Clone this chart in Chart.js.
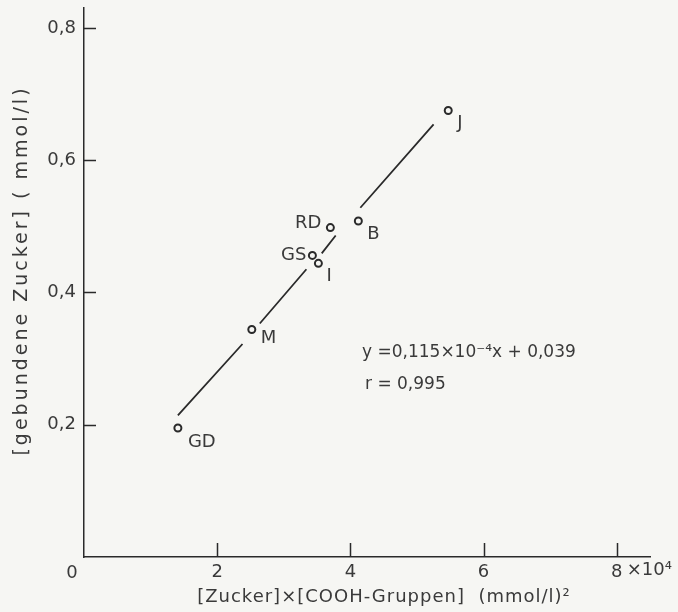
<!DOCTYPE html>
<html>
<head>
<meta charset="utf-8">
<script src="https://cdn.jsdelivr.net/npm/chart.js@4.4.0/dist/chart.umd.min.js"></script>
<style>
  html, body { margin: 0; padding: 0; background: #f6f6f3; }
  canvas { display: block; }
</style>
</head>
<body>
<canvas id="c" width="678" height="612"></canvas>
<script>
// samples: [Zucker] x [COOH-Gruppen] (x 10^4 (mmol/l)^2) vs bound sugar (mmol/l)
const sampleNames = ['GD', 'M', 'GS', 'I', 'RD', 'B', 'J'];
const sugarProduct = [1.41, 2.52, 3.43, 3.52, 3.70, 4.12, 5.47];
const boundSugar = [0.195, 0.344, 0.456, 0.444, 0.498, 0.508, 0.675];

// regression line, drawn broken around the points
const fitStartX = [1.41, 2.64, 3.57, 4.15];
const fitStartY = [0.214, 0.353, 0.459, 0.528];
const fitEndX = [2.38, 3.34, 3.78, 5.25];
const fitEndY = [0.322, 0.435, 0.486, 0.654];

const xTickValues = [0, 2, 4, 6, 8];
const yTickValues = [0.2, 0.4, 0.6, 0.8];
const xTitle = '[Zucker]×[COOH-Gruppen]  (mmol/l)²';
const yTitle = '[gebundene Zucker] ( mmol/l)';
const equationLines = ['y =0,115×10⁻⁴x + 0,039', 'r = 0,995'];

const ink = '#2a2a2a';
const textInk = '#3a3a3a';
const fontFamily = '"DejaVu Sans", sans-serif';

// where each point's name sits relative to the marker (px), and its alignment
const labelOffsets = {
  GD: [10, 14, 'left'], M: [9, 9, 'left'], GS: [-6, 0, 'right'], I: [8, 13, 'left'],
  RD: [-9, -4, 'right'], B: [9, 13, 'left'], J: [9, 13, 'left']
};

const points = sugarProduct.map((x, i) => ({ x, y: boundSugar[i] }));
const fitLine = [];
fitStartX.forEach((x, i) => {
  fitLine.push({ x, y: fitStartY[i] });
  fitLine.push({ x: fitEndX[i], y: fitEndY[i] });
  fitLine.push({ x: fitEndX[i], y: null });
});

const extras = {
  id: 'extras',
  afterDraw(chart) {
    const ctx = chart.ctx;
    const xs = chart.scales.x, ys = chart.scales.y;
    const area = chart.chartArea;
    ctx.save();
    // inward tick marks
    ctx.strokeStyle = ink;
    ctx.lineWidth = 1.5;
    ctx.beginPath();
    yTickValues.forEach(v => {
      const py = Math.round(ys.getPixelForValue(v)) + 0.5;
      ctx.moveTo(area.left, py);
      ctx.lineTo(area.left + 12, py);
    });
    xTickValues.forEach(v => {
      if (v === 0) return;
      const px = Math.round(xs.getPixelForValue(v)) + 0.5;
      ctx.moveTo(px, area.bottom);
      ctx.lineTo(px, area.bottom - 14);
    });
    ctx.stroke();

    ctx.fillStyle = textInk;
    ctx.font = '18px ' + fontFamily;
    ctx.textBaseline = 'middle';

    // origin label sits left of the axis, exponent right of the last label
    ctx.textAlign = 'center';
    ctx.fillText('0', area.left - 12, area.bottom + 16);
    ctx.textAlign = 'left';
    const last = xTickValues[xTickValues.length - 1];
    ctx.fillText('×10⁴', xs.getPixelForValue(last) + 10, area.bottom + 13);

    // point names
    const meta = chart.getDatasetMeta(1);
    meta.data.forEach((el, i) => {
      const name = sampleNames[i];
      const [dx, dy, align] = labelOffsets[name];
      ctx.textAlign = align;
      ctx.fillText(name, el.x + dx, el.y + dy);
    });

    // regression equation
    ctx.font = '17px ' + fontFamily;
    ctx.textAlign = 'left';
    const ex = area.left + 278, ey = area.top + 345;
    ctx.fillText(equationLines[0], ex, ey);
    ctx.fillText(equationLines[1], ex + 3, ey + 32);

    // axis titles, spaced out like the typeset original
    ctx.font = '18px ' + fontFamily;
    ctx.letterSpacing = '1px';
    ctx.textAlign = 'center';
    ctx.fillText(xTitle, (area.left + area.right) / 2 + 17, 597);
    ctx.save();
    ctx.letterSpacing = '3px';
    ctx.font = '19px ' + fontFamily;
    ctx.translate(22, (area.top + area.bottom) / 2 - 12);
    ctx.rotate(-Math.PI / 2);
    ctx.fillText(yTitle, 0, 0);
    ctx.restore();
    ctx.restore();
  }
};

new Chart(document.getElementById('c'), {
  type: 'scatter',
  plugins: [extras],
  data: {
    datasets: [
      {
        data: fitLine,
        showLine: true,
        spanGaps: false,
        borderColor: ink,
        borderWidth: 1.8,
        pointRadius: 0
      },
      {
        data: points,
        pointRadius: 3.5,
        pointBorderWidth: 2,
        pointBorderColor: ink,
        pointBackgroundColor: '#f6f6f3'
      }
    ]
  },
  options: {
    responsive: false,
    animation: false,
    events: [],
    layout: { padding: { top: 8, right: 28 } },
    plugins: { legend: { display: false }, tooltip: { enabled: false } },
    scales: {
      x: {
        type: 'linear',
        min: 0,
        max: 8.5,
        afterFit: s => { s.height = 55; s.paddingLeft = 0; s.paddingRight = 0; },
        afterBuildTicks: s => { s.ticks = xTickValues.map(v => ({ value: v })); },
        grid: { display: false, drawTicks: false },
        border: { display: true, color: ink, width: 1.5 },
        ticks: {
          padding: 5,
          color: textInk,
          font: { family: fontFamily, size: 18 },
          callback: v => (v === 0 ? '' : String(v))
        }
      },
      y: {
        type: 'linear',
        min: 0,
        max: 0.83,
        afterFit: s => { s.width = 84; s.paddingTop = 0; s.paddingBottom = 0; },
        afterBuildTicks: s => { s.ticks = yTickValues.map(v => ({ value: v })); },
        grid: { display: false, drawTicks: false },
        border: { display: true, color: ink, width: 1.5 },
        ticks: {
          padding: 8,
          color: textInk,
          font: { family: fontFamily, size: 18 },
          callback: v => v.toFixed(1).replace('.', ',')
        }
      }
    }
  }
});
</script>
</body>
</html>
